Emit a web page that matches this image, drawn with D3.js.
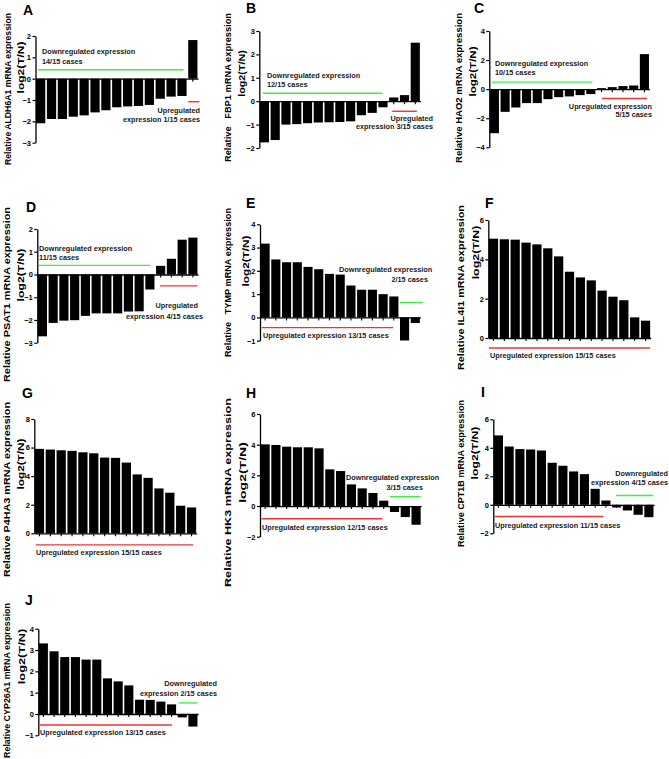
<!DOCTYPE html>
<html><head><meta charset="utf-8">
<script src="https://cdn.jsdelivr.net/npm/d3@7"></script>
<style>body{margin:0;background:#fff}svg{display:block}</style>
</head><body><svg id="c" width="669" height="759"></svg>
<script>
// ---------------- DATA ----------------
const genes = ["ALDH6A1","FBP1","HAO2","PSAT1","TYMP","IL4I1","P4HA3","HK3","CPT1B","CYP26A1"];
const panelLetters = ["A","B","C","D","E","F","G","H","I","J"];
const cases = d3.range(1, 16).map(i => "case" + i);

const valuesA = [-2.09,-1.89,-1.89,-1.78,-1.72,-1.58,-1.48,-1.34,-1.30,-1.28,-1.23,-0.94,-0.84,-0.81,1.81];
const valuesB = [-1.76,-1.66,-1.00,-0.98,-0.94,-0.91,-0.90,-0.89,-0.86,-0.60,-0.50,-0.26,0.16,0.26,2.50];
const valuesC = [-3.03,-1.56,-1.26,-0.96,-0.96,-0.69,-0.55,-0.50,-0.41,-0.34,0.07,0.14,0.21,0.25,2.41];
const valuesD = [-2.72,-2.13,-2.03,-2.01,-1.82,-1.71,-1.71,-1.71,-1.63,-1.62,-0.66,0.38,0.69,1.53,1.62];
const valuesE = [3.17,2.49,2.37,2.37,2.17,2.07,1.87,1.84,1.37,1.19,1.19,1.00,0.90,-0.99,-0.24];
const valuesF = [5.05,5.02,5.00,4.85,4.76,4.56,4.15,3.37,3.08,2.93,2.41,2.10,1.92,1.05,0.88];
const valuesG = [5.91,5.86,5.81,5.77,5.67,5.60,5.30,5.28,4.95,4.12,3.88,3.14,2.84,1.93,1.81];
const valuesH = [4.02,3.98,3.87,3.83,3.83,3.76,2.39,2.28,1.41,1.15,0.85,0.35,-0.39,-0.72,-1.22];
const valuesI = [4.87,4.09,3.91,3.88,3.81,2.95,2.74,2.34,2.15,1.12,0.30,-0.19,-0.40,-0.70,-0.87];
const valuesJ = [3.31,2.94,2.67,2.67,2.55,2.55,1.67,1.53,1.34,0.67,0.66,0.58,0.45,-0.16,-0.59];

const yTicksA = [-3,-2,-1,0,1,2];
const yTicksB = [-2,-1,0,1,2,3];
const yTicksC = [-4,-2,0,2,4];
const yTicksD = [-3,-2,-1,0,1,2];
const yTicksE = [-1,0,1,2,3,4];
const yTicksF = [0,2,4,6];
const yTicksG = [0,2,4,6,8];
const yTicksH = [-2,0,2,4,6];
const yTicksI = [-2,0,2,4,6];
const yTicksJ = [-1,0,1,2,3,4];

// groups: [first index, last index] of downregulated / upregulated cases
const downGroups = [[0,13],[0,11],[0,9],[0,10],[13,14],null,null,[12,14],[11,14],[13,14]];
const upGroups   = [[14,14],[12,14],[10,14],[11,14],[0,12],[0,14],[0,14],[0,11],[0,10],[0,12]];

const notesA = ["Downregulated expression","14/15 cases","Upregulated","expression 1/15 cases"];
const notesB = ["Downregulated expression","12/15 cases","Upregulated","expression 3/15 cases"];
const notesC = ["Downregulated expression","10/15 cases","Upregulated expression","5/15 cases"];
const notesD = ["Downregulated expression","11/15 cases","Upregulated","expression 4/15 cases"];
const notesE = ["Downregulated expression","2/15 cases","Upregulated expression 13/15 cases"];
const notesF = ["Upregulated expression 15/15 cases"];
const notesG = ["Upregulated expression 15/15 cases"];
const notesH = ["Downregulated expression","3/15 cases","Upregulated expression 12/15 cases"];
const notesI = ["Downregulated","expression 4/15 cases","Upregulated expression 11/15 cases"];
const notesJ = ["Downregulated","expression 2/15 cases","Upregulated expression 13/15 cases"];

const allValues = [valuesA,valuesB,valuesC,valuesD,valuesE,valuesF,valuesG,valuesH,valuesI,valuesJ];
const allTicks  = [yTicksA,yTicksB,yTicksC,yTicksD,yTicksE,yTicksF,yTicksG,yTicksH,yTicksI,yTicksJ];
const allNotes  = [notesA,notesB,notesC,notesD,notesE,notesF,notesG,notesH,notesI,notesJ];

// ---------------- LAYOUT (positions / styles) ----------------
const layout = [
 {band:[35.5,198], yPx:[142.7,36], letter:[23,15], l1:[7.5,13,165], l2:[20.5,38,97], gap:false,
  green:{lvl:0.42, pad:[2,-3]}, red:{lvl:-1.08, pad:[0,2]},
  notePos:[[42,54,"start"],[42,64,"start"],[200,113,"end"],[200,122,"end"]]},
 {band:[259.3,420.4], yPx:[148,31], letter:[246,13], l1:[227.5,13,162], l2:[241,47,100], gap:true,
  green:{lvl:0.34, pad:[3,-5]}, red:{lvl:-0.43, pad:[3,-3]},
  notePos:[[267,78,"start"],[267,87,"start"],[433,121,"end"],[433,129,"end"]]},
 {band:[489.3,649.5], yPx:[147.3,31], letter:[474,13], l1:[458.5,13,163], l2:[472,43,100], gap:false,
  green:{lvl:0.48, pad:[2,-3]}, red:{lvl:-0.64, pad:[5,-2]},
  notePos:[[495,66,"start"],[495,74.5,"start"],[652,109,"end"],[652,117,"end"]]},
 {band:[37.3,198], yPx:[342.7,229], letter:[26,212], l1:[6.5,207,382], l2:[20.5,245,305], gap:false,
  green:{lvl:0.40, pad:[1,-4]}, red:{lvl:-0.50, pad:[4,0]},
  notePos:[[39,251,"start"],[39,260,"start"],[198,308,"end"],[203,319,"end"]]},
 {band:[260,420.4], yPx:[340.7,224.3], letter:[246,208], l1:[227.5,208,357], l2:[245,232,290], gap:true,
  green:{lvl:0.64, pad:[0,3]}, red:{lvl:-0.44, pad:[1,-5]},
  notePos:[[339,272,"start"],[428,282,"end"],[263,338,"start"]]},
 {band:[488.3,650.7], yPx:[338,220], letter:[485,208], l1:[460.5,205,370], l2:[475,222,283], gap:false,
  red:{lvl:-0.51, pad:[0,0]},
  notePos:[[490,358,"start"]]},
 {band:[34.3,196.7], yPx:[533.3,419], letter:[22,398], l1:[6.5,402,577], l2:[20.5,435,493], gap:false,
  red:{lvl:-0.81, pad:[1,-3]},
  notePos:[[36,555,"start"]]},
 {band:[260,421.2], yPx:[536.7,414], letter:[246,398], l1:[227.5,398,587], l2:[242,438,507], gap:false,
  green:{lvl:0.61, pad:[0,0]}, red:{lvl:-0.83, pad:[1,-6]},
  notePos:[[346,480,"start"],[423,490,"end"],[262,530,"start"]]},
 {band:[493.3,654], yPx:[533.3,419.3], letter:[481,397], l1:[460.5,400,547], l2:[474,423,483], gap:false,
  green:{lvl:0.65, pad:[4,0]}, red:{lvl:-0.82, pad:[1,-7]},
  notePos:[[668,476,"end"],[668,485,"end"],[495,528,"start"]]},
 {band:[38.3,198], yPx:[735.3,628.7], letter:[25,605], l1:[6.5,603,758], l2:[21,625,688], gap:false,
  green:{lvl:0.52, pad:[1,0]}, red:{lvl:-0.52, pad:[1,-4]},
  notePos:[[217,686,"end"],[217,696,"end"],[40,735,"start"]]}
];

const GREEN = "#3ef03e", RED = "#ee3535";
const FONT = "'Liberation Sans', Arial, Helvetica, sans-serif";

const svg = d3.select("#c").style("font-family", FONT);
svg.append("rect").attr("width",669).attr("height",759).attr("fill","#fff");

layout.forEach((L, p) => {
  const vals = allValues[p];
  const ticks = allTicks[p];
  const g = svg.append("g");

  const x = d3.scaleBand().domain(cases).range(L.band).paddingInner(0.15).paddingOuter(0.05);
  const y = d3.scaleLinear().domain([d3.min(ticks), d3.max(ticks)]).range(L.yPx);

  // x axis (ticks below at each case)
  const xa = g.append("g").attr("transform", `translate(0,${y(0)})`)
    .call(d3.axisBottom(x).tickSize(3).tickSizeOuter(0).tickFormat(""));
  xa.select(".domain").attr("stroke","#000").attr("stroke-width",1.3);
  xa.selectAll(".tick line").attr("stroke","#000").attr("stroke-width",1.1);

  // bars
  g.selectAll("rect.bar").data(vals).join("rect").attr("class","bar")
    .attr("x", (d,i) => x(cases[i]))
    .attr("width", x.bandwidth())
    .attr("y", d => y(Math.max(0,d)))
    .attr("height", d => Math.abs(y(d) - y(0)))
    .attr("fill","#000");

  // y axis
  const ya = g.append("g").attr("transform", `translate(${L.band[0]},0)`)
    .call(d3.axisLeft(y).tickValues(ticks).tickSize(3).tickSizeOuter(0).tickPadding(1.5).tickFormat(d3.format("d")));
  ya.select(".domain").attr("stroke","#000").attr("stroke-width",1.3);
  ya.selectAll(".tick line").attr("stroke","#000").attr("stroke-width",1.2);
  ya.selectAll(".tick text").attr("font-size",7.5).attr("font-weight","bold").attr("fill","#000")
    .attr("font-family", FONT);

  // group lines
  const seg = (grp, cfg, color) => {
    if (!grp || !cfg) return;
    const x0 = x(cases[grp[0]]) + cfg.pad[0];
    const x1 = x(cases[grp[1]]) + x.bandwidth() + cfg.pad[1];
    g.append("line").attr("x1",x0).attr("x2",x1).attr("y1",y(cfg.lvl)).attr("y2",y(cfg.lvl))
      .attr("stroke",color).attr("stroke-width",1.4);
  };
  seg(downGroups[p], L.green, GREEN);
  seg(upGroups[p], L.red, RED);

  // annotations
  allNotes[p].forEach((t, k) => {
    const pos = L.notePos[k];
    g.append("text").attr("x",pos[0]).attr("y",pos[1]).attr("text-anchor",pos[2])
      .attr("font-size",7.3).attr("font-weight","bold").attr("fill","#1a1a1a").text(t);
  });

  // y title, two lines
  const main = L.gap ? `Relative   ${genes[p]} mRNA expression` : `Relative ${genes[p]} mRNA expression`;
  g.append("text")
    .attr("transform", `translate(${L.l1[0]},${(L.l1[1]+L.l1[2])/2}) rotate(-90)`)
    .attr("text-anchor","middle").attr("dominant-baseline","central")
    .attr("font-size",9).attr("font-weight","bold").style("white-space","pre")
    .attr("textLength", L.l1[2]-L.l1[1]).attr("lengthAdjust","spacingAndGlyphs")
    .text(main);
  g.append("text")
    .attr("transform", `translate(${L.l2[0]},${(L.l2[1]+L.l2[2])/2}) rotate(-90)`)
    .attr("text-anchor","middle").attr("dominant-baseline","central")
    .attr("font-size",9.5).attr("font-weight","bold")
    .attr("textLength", (L.l2[2]-L.l2[1]) * 0.88).attr("lengthAdjust","spacingAndGlyphs")
    .text("log2(T/N)");

  // panel letter
  g.append("text").attr("x",L.letter[0]).attr("y",L.letter[1])
    .attr("font-size",14).attr("font-weight","bold").text(panelLetters[p]);
});
</script>
</body></html>
